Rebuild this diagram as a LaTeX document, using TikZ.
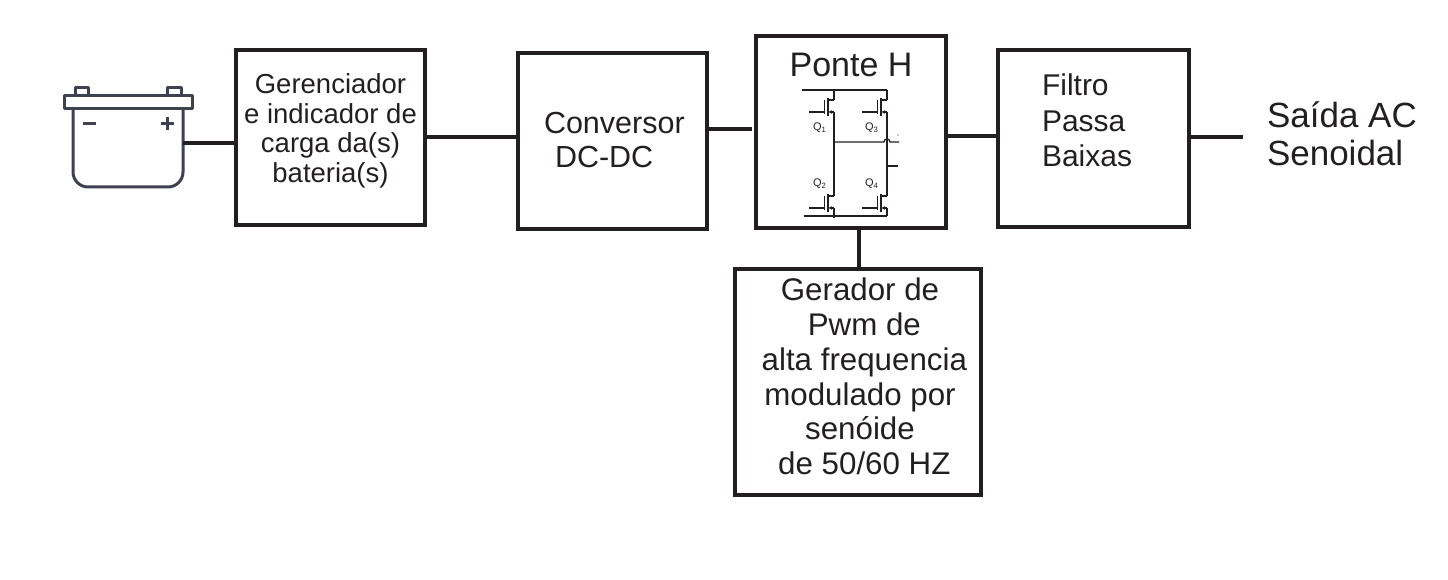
\documentclass[tikz,border=0pt]{standalone}
\usepackage{fontspec}
\setmainfont{Liberation Sans}
\usetikzlibrary{arrows.meta,calc}
\definecolor{ink}{HTML}{231F20}
\definecolor{batt}{HTML}{3D4150}
\begin{document}
\begin{tikzpicture}[x=1pt,y=-1pt,
  box/.style={draw=ink,line width=4pt,rectangle,inner sep=0pt,outer sep=0pt},
  wire/.style={draw=ink,line width=4pt},
  fine/.style={draw=ink,line width=1.3pt},
  txt/.style={inner sep=0pt,outer sep=0pt,text=ink},
  qlab/.style={inner sep=0pt,outer sep=0pt,text=ink,font=\fontsize{11}{12}\selectfont,anchor=base west}]
\useasboundingbox (0,0) rectangle (1448,580);

% boxes
\node[box,minimum width=189pt,minimum height=175pt] (B1) at (330.5,137.5) {};
\node[box,minimum width=189pt,minimum height=176pt] (B2) at (612.5,141) {};
\node[box,minimum width=190pt,minimum height=192pt] (B3) at (851,132) {};
\node[box,minimum width=191pt,minimum height=177pt] (B4) at (1093.5,138.5) {};
\node[box,minimum width=246pt,minimum height=226pt] (B5) at (858,382) {};

% texts
\node[txt,anchor=north,align=center,font=\fontsize{27.5}{29.5}\selectfont] (T1) at (330.5,74)
  {Gerenciador\\e indicador de\\carga da(s)\\bateria(s)};
\node[txt,anchor=north west,align=left,font=\fontsize{30.5}{34}\selectfont] (T2) at (544,112)
  {Conversor\\\hspace*{11pt}DC-DC};
\node[txt,anchor=north,font=\fontsize{34}{38}\selectfont] (T3) at (851,53.5) {Ponte H};
\node[txt,anchor=north west,align=left,font=\fontsize{30}{35.5}\selectfont] (T4) at (1042,74)
  {Filtro\\Passa\\Baixas};
\node[txt,anchor=north,align=center,font=\fontsize{31.3}{34.8}\selectfont] (T5) at (860,278)
  {Gerador de\\~Pwm de\\~alta frequencia\\modulado por\\senóide\\~de 50/60 HZ};
\node[txt,anchor=north west,align=left,font=\fontsize{35}{38}\selectfont] (T6) at (1267,101.5)
  {Saída AC\\Senoidal};

% battery
\begin{scope}[draw=batt,line width=3pt,line join=round]
  \draw (75,88) rectangle (88,96);
  \draw (167,88) rectangle (181,96);
  \draw (64,96) rectangle (192,109);
  \draw[rounded corners=15pt] (73,109) -- (73,187) -- (183,187) -- (183,109);
  \draw (83,124) -- (96,124);
  \draw (160.5,124) -- (173.5,124) (167,117.5) -- (167,130.5);
\end{scope}
\coordinate (batt) at (183,143);
\coordinate (out) at (1243,137);

% connectors
\draw[wire] (batt) -- (batt -| B1.west);
\draw[wire] (B1.east |- 0,137) -- (B2.west |- 0,137);
\draw[wire] (B2.east |- 0,129) -- ([xshift=-4pt]B3.west |- 0,129);
\draw[wire] (B3.east |- 0,136) -- (B4.west |- 0,136);
\draw[wire] (B4.east |- out) -- (out);
\draw[wire] (B3.south -| 859,0) -- (B5.north -| 859,0);

% H bridge
\foreach \x/\y in {834/107, 834/203, 887/107, 887/203}{
  \draw[fine] (\x-6,\y-9) -- (\x-6,\y+9);
  \draw[fine] (\x-9.5,\y-7) -- (\x-9.5,\y+7);
  \draw[fine] (\x-25,\y+5) -- (\x-9.5,\y+5);
  \draw[fine] (\x,\y-7) -- (\x-6,\y-7);
  \draw[fine,-{Stealth[length=3.5pt,width=3.5pt]}] (\x,\y+5) -- (\x-5.5,\y+5);
}
\draw[fine] (802,90) -- (887,90);
\draw[fine] (804,216) -- (887,216);
\draw[fine] (834,90) -- (834,100) (834,112) -- (834,196) (834,208) -- (834,218);
\draw[fine] (887,90) -- (887,100) (887,112) -- (887,196) (887,208) -- (887,216);
\draw[fine] (834,142) -- (884,142) .. controls (884,138) and (890,138) .. (890,142) -- (899,142);
\draw[fine] (887,166) -- (898,166);
\fill[ink] (898,135) circle (0.6pt);
\node[qlab] (q1) at (813,131) {Q\textsubscript{1}};
\node[qlab] (q3) at (865,131) {Q\textsubscript{3}};
\node[qlab] (q2) at (813,187) {Q\textsubscript{2}};
\node[qlab] (q4) at (865,187) {Q\textsubscript{4}};
\end{tikzpicture}
\end{document}
